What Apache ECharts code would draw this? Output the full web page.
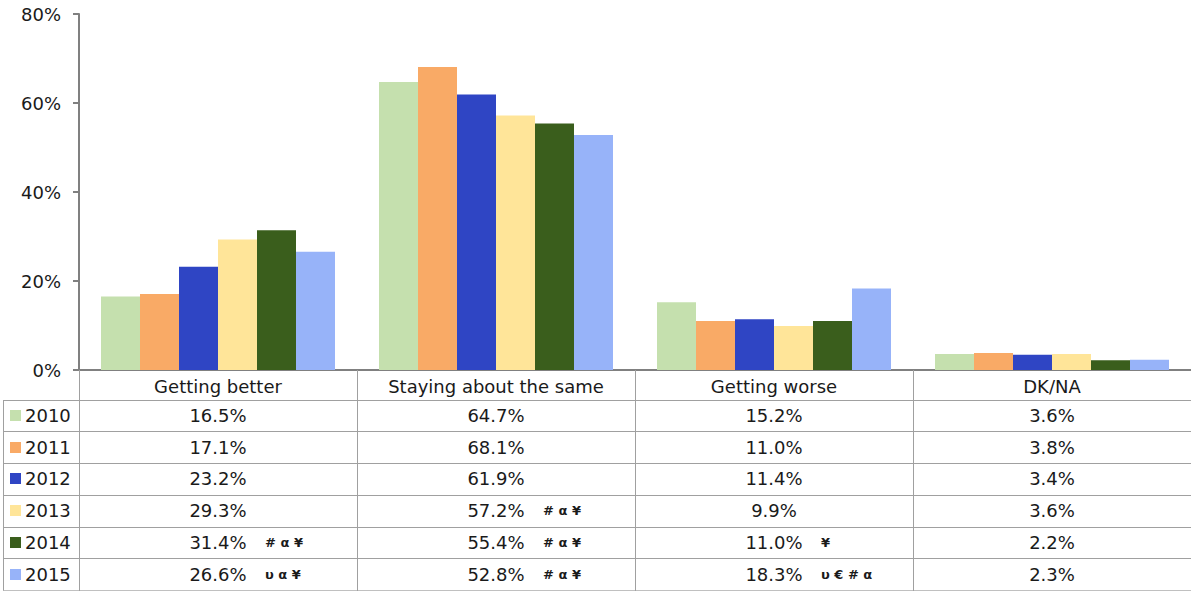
<!DOCTYPE html>
<html>
<head>
<meta charset="utf-8">
<style>
  html, body { margin: 0; padding: 0; background: #fff; }
  #chart { width: 1191px; height: 591px; }
</style>
<script src="https://cdn.jsdelivr.net/npm/echarts@6/dist/echarts.min.js"></script>
</head>
<body>
<div id="chart"></div>
<script>
// data
var categories = ['Getting better', 'Staying about the same', 'Getting worse', 'DK/NA'];
var years = ['2010', '2011', '2012', '2013', '2014', '2015'];
var colors = ['#c5e0ae', '#f9aa66', '#2f45c4', '#ffe599', '#3a5e1c', '#97b3f9'];
var v2010 = [16.5, 64.7, 15.2, 3.6];
var v2011 = [17.1, 68.1, 11.0, 3.8];
var v2012 = [23.2, 61.9, 11.4, 3.4];
var v2013 = [29.3, 57.2, 9.9, 3.6];
var v2014 = [31.4, 55.4, 11.0, 2.2];
var v2015 = [26.6, 52.8, 18.3, 2.3];
var m2010 = ['', '', '', ''];
var m2011 = ['', '', '', ''];
var m2012 = ['', '', '', ''];
var m2013 = ['', '# α ¥', '', ''];
var m2014 = ['# α ¥', '# α ¥', '¥', ''];
var m2015 = ['υ α ¥', '# α ¥', 'υ € # α', ''];
var yTicks = [0, 20, 40, 60, 80];

var values = [v2010, v2011, v2012, v2013, v2014, v2015];
var marks = [m2010, m2011, m2012, m2013, m2014, m2015];
var font = '"DejaVu Sans", Verdana, sans-serif';
var ink = '#1a1a1a';

var chart = echarts.init(document.getElementById('chart'), null, { renderer: 'svg' });
chart.setOption({
  animation: false,
  textStyle: { fontFamily: font },
  grid: { left: 79, right: -1, top: 14, bottom: 221 },
  xAxis: {
    type: 'category',
    data: categories,
    axisLine: { lineStyle: { color: '#808080', width: 2 } },
    axisTick: { show: true, interval: 0, length: 221, lineStyle: { color: '#a0a0a0' } },
    axisLabel: { interval: 0, hideOverlap: false, color: ink, fontSize: 18, lineHeight: 18, margin: 7, fontFamily: font }
  },
  yAxis: {
    type: 'value',
    min: yTicks[0],
    max: yTicks[yTicks.length - 1],
    interval: 20,
    axisLine: { show: true, lineStyle: { color: '#808080', width: 2 } },
    axisTick: { show: true, length: 6, lineStyle: { color: '#808080', width: 2 } },
    axisLabel: { color: ink, fontSize: 18, margin: 18, formatter: '{value}%', fontFamily: font },
    splitLine: { show: false }
  },
  series: years.map(function (y, i) {
    return {
      name: y,
      type: 'bar',
      barWidth: 39,
      barGap: '0%',
      itemStyle: { color: colors[i] },
      data: values[i]
    };
  })
});

// data table under the plot
var headerBottom = 399.5;
var rowH = 31.75;
var graphics = [];
var rightEdge = 1191;
for (var r = 0; r <= years.length; r++) {
  var yy = Math.round(headerBottom + r * rowH) + 0.5;
  graphics.push({
    type: 'line', silent: true,
    shape: { x1: 3, y1: yy, x2: rightEdge, y2: yy },
    style: { stroke: r === years.length ? '#c0c0c0' : '#a0a0a0', lineWidth: 1 }
  });
}
graphics.push({
  type: 'line', silent: true,
  shape: { x1: 3.5, y1: Math.round(headerBottom) + 0.5, x2: 3.5, y2: 590.5 },
  style: { stroke: '#a0a0a0', lineWidth: 1 }
});
years.forEach(function (y, i) {
  var cy = headerBottom + i * rowH + rowH / 2;
  graphics.push({
    type: 'rect', silent: true,
    shape: { x: 10, y: Math.round(cy - 5.5), width: 11, height: 11 },
    style: { fill: colors[i] }
  });
  graphics.push({
    type: 'text', silent: true, x: 25, y: cy,
    style: { text: y, fill: ink, font: '18px ' + font, verticalAlign: 'middle', align: 'left' }
  });
  categories.forEach(function (c, j) {
    var cx = chart.convertToPixel({ xAxisIndex: 0 }, c);
    graphics.push({
      type: 'text', silent: true, x: cx, y: cy,
      style: { text: values[i][j].toFixed(1) + '%', fill: ink, font: '18px ' + font, verticalAlign: 'middle', align: 'center' }
    });
    if (marks[i][j]) {
      graphics.push({
        type: 'text', silent: true, x: cx + 47, y: cy,
        style: { text: marks[i][j], fill: ink, font: 'bold 13px ' + font, verticalAlign: 'middle', align: 'left' }
      });
    }
  });
});
chart.setOption({ graphic: graphics });
window.addEventListener('resize', function () { chart.resize(); });
</script>
</body>
</html>
